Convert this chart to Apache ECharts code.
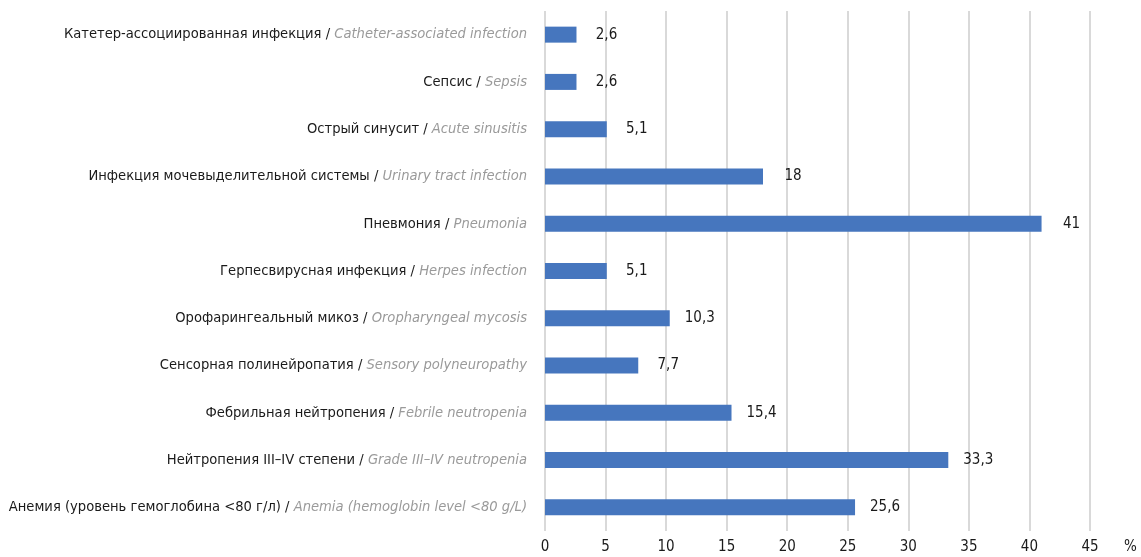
<!DOCTYPE html>
<html>
<head>
<meta charset="utf-8">
<script src="https://cdn.jsdelivr.net/npm/echarts@6/dist/echarts.min.js"></script>
<style>
  html, body { margin: 0; padding: 0; background: #fff; }
  #chart { width: 1141px; height: 557px; }
</style>
</head>
<body>
<div id="chart"></div>
<script>
// Complications, top to bottom
const namesRu = [
  'Катетер-ассоциированная инфекция',
  'Сепсис',
  'Острый синусит',
  'Инфекция мочевыделительной системы',
  'Пневмония',
  'Герпесвирусная инфекция',
  'Орофарингеальный микоз',
  'Сенсорная полинейропатия',
  'Фебрильная нейтропения',
  'Нейтропения III–IV степени',
  'Анемия (уровень гемоглобина <80 г/л)'
];
const namesEn = [
  'Catheter-associated infection',
  'Sepsis',
  'Acute sinusitis',
  'Urinary tract infection',
  'Pneumonia',
  'Herpes infection',
  'Oropharyngeal mycosis',
  'Sensory polyneuropathy',
  'Febrile neutropenia',
  'Grade III–IV neutropenia',
  'Anemia (hemoglobin level <80 g/L)'
];
const percents = [2.6, 2.6, 5.1, 18, 41, 5.1, 10.3, 7.7, 15.4, 33.3, 25.6];

const FONT = '"Liberation Sans Narrow", "DejaVu Sans Condensed", "Open Sans", sans-serif';
const categories = namesRu.map((ru, i) => ru + '\u0000' + namesEn[i]);

const chart = echarts.init(document.getElementById('chart'), null, { renderer: 'canvas' });
chart.setOption({
  animation: false,
  grid: { left: 545, right: 51, top: 11, bottom: 26, containLabel: false, outerBoundsMode: 'none' },
  xAxis: {
    type: 'value',
    min: 0, max: 45, interval: 5,
    name: '%',
    nameLocation: 'end',
    nameGap: 34,
    nameTextStyle: { fontFamily: FONT, fontSize: 15, color: '#1a1a1a', verticalAlign: 'top', padding: [9, 0, 0, 0] },
    axisLine: { show: false },
    axisTick: { show: false },
    axisLabel: { fontFamily: FONT, fontSize: 15, color: '#1a1a1a', margin: 9 },
    splitLine: { show: true, lineStyle: { color: '#d9d9d9', width: 2 } }
  },
  yAxis: {
    type: 'category',
    inverse: true,
    data: categories,
    axisLine: { show: false },
    axisTick: { show: false },
    axisLabel: {
      margin: 18,
      formatter: v => {
        const [ru, en] = v.split('\u0000');
        return '{ru|' + ru + ' / }{en|' + en + '}';
      },
      rich: {
        ru: { fontFamily: FONT, fontSize: 14.6, color: '#1a1a1a' },
        en: { fontFamily: FONT, fontSize: 14.6, color: '#9a9a9a', fontStyle: 'italic' }
      }
    }
  },
  series: [{
    type: 'bar',
    data: percents,
    barWidth: 16,
    itemStyle: { color: '#4676be' },
    label: {
      show: true,
      position: 'right',
      distance: 30,
      align: 'center',
      fontFamily: FONT,
      fontSize: 15,
      color: '#1a1a1a',
      formatter: p => String(p.value).replace('.', ',')
    }
  }]
});
</script>
</body>
</html>
